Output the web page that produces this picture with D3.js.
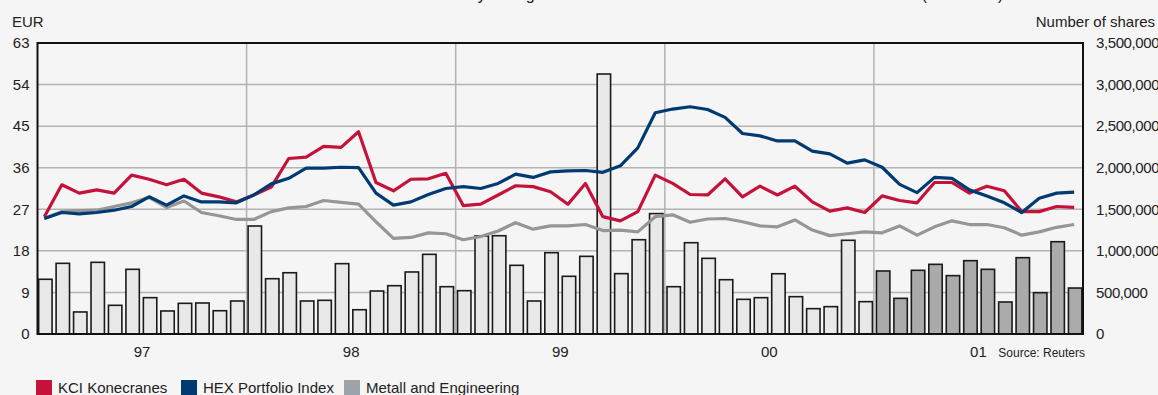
<!DOCTYPE html>
<meta charset="utf-8">
<style>
body { margin: 0; background: #f5f5f5; }
svg { display: block; font-family: "Liberation Sans", Arial, sans-serif; }
.tick text { font-size: 15px; fill: #222; }
.grid line { stroke: #b3b3b3; stroke-width: 1.5; }
.bar { stroke: #1a1a1a; stroke-width: 1.6; }
.series { fill: none; stroke-width: 3.2; stroke-linejoin: round; }
</style>
<svg width="1158" height="395"></svg>
<script src="https://d3js.org/d3.v7.min.js"></script>
<script>

// 60 months, Jan 1997 .. Dec 2001
var years = ["97", "98", "99", "00", "01"];

var kci = [25.4, 32.3, 30.5, 31.2, 30.5, 34.4, 33.5, 32.3, 33.5, 30.5, 29.7, 28.6,
           30.1, 31.8, 38.0, 38.3, 40.6, 40.4, 43.8, 32.8, 31.0, 33.5, 33.6, 34.8,
           27.8, 28.1, 30.1, 32.1, 31.9, 30.8, 28.1, 32.6, 25.4, 24.5, 26.5, 34.4,
           32.6, 30.2, 30.1, 33.6, 29.7, 32.0, 30.1, 32.0, 28.6, 26.6, 27.3, 26.3,
           29.9, 28.9, 28.4, 32.8, 32.8, 30.5, 32.0, 31.0, 26.5, 26.5, 27.6, 27.4];

var hex = [25.0, 26.3, 26.0, 26.3, 26.8, 27.6, 29.7, 27.9, 29.9, 28.6, 28.6, 28.4,
           30.1, 32.5, 33.7, 35.9, 35.9, 36.1, 36.0, 30.5, 27.9, 28.6, 30.2, 31.5,
           31.9, 31.5, 32.6, 34.6, 33.9, 35.1, 35.3, 35.4, 35.0, 36.4, 40.3, 47.9,
           48.7, 49.2, 48.6, 46.9, 43.4, 42.9, 41.8, 41.8, 39.6, 39.0, 37.0, 37.7,
           36.1, 32.4, 30.6, 33.9, 33.7, 31.2, 29.9, 28.4, 26.3, 29.4, 30.5, 30.7];

var metall = [25.0, 26.5, 26.7, 26.8, 27.6, 28.4, 29.6, 27.4, 28.8, 26.3, 25.6, 24.8,
              24.8, 26.5, 27.3, 27.6, 28.9, 28.5, 28.1, 24.3, 20.7, 20.9, 21.9, 21.7,
              20.4, 21.1, 22.3, 24.1, 22.7, 23.4, 23.4, 23.7, 22.4, 22.5, 22.1, 25.4,
              25.8, 24.2, 24.9, 25.0, 24.3, 23.4, 23.2, 24.7, 22.5, 21.3, 21.7, 22.1,
              21.9, 23.4, 21.4, 23.2, 24.5, 23.7, 23.7, 23.0, 21.4, 22.1, 23.1, 23.7];

var volume = [658000, 850000, 265000, 862000, 345000, 778000, 437000, 277000, 369000, 373000, 280000, 397000,
              1299000, 665000, 737000, 397000, 405000, 846000, 292000, 517000, 581000, 746000, 958000, 569000,
              521000, 1179000, 1182000, 826000, 397000, 978000, 694000, 934000, 3127000, 726000, 1134000, 1448000,
              569000, 1098000, 910000, 653000, 417000, 437000, 725000, 449000, 305000, 329000, 1127000, 389000,
              758000, 429000, 766000, 838000, 702000, 882000, 778000, 385000, 918000, 497000, 1110000, 553000];

var eurTicks = [0, 9, 18, 27, 36, 45, 54, 63];
var shareTicks = [0, 500000, 1000000, 1500000, 2000000, 2500000, 3000000, 3500000];

var legend = [
  {name: "KCI Konecranes", color: "#c4123a"},
  {name: "HEX Portfolio Index", color: "#003a72"},
  {name: "Metall and Engineering", color: "#9ea5aa"}
];

var svg = d3.select("svg"),
    pLeft = 37.5, pRight = 1083, pTop = 43, pBottom = 334;

var x = d3.scaleBand().domain(d3.range(volume.length)).range([pLeft, pRight])
    .paddingInner(0.14).paddingOuter(0.02);
var xYear = d3.scaleBand().domain(years).range([pLeft, pRight]);
var yL = d3.scaleLinear().domain([0, 63]).range([pBottom, pTop]);
var yR = d3.scaleLinear().domain([0, 3500000]).range([pBottom, pTop]);

// title (cut off at top of the picture)
svg.append("text")
    .attr("x", 122).attr("y", 0)
    .style("font-size", "16px").style("fill", "#222")
    .text("KCI Konecranes Share Price and Turnover Monthly during 1997–2001 Relative to HEX Indices and Sector Index (EUR/HEX)");

// grid
var grid = svg.append("g").attr("class", "grid");
grid.selectAll(".h").data(eurTicks.slice(1, -1)).enter().append("line")
    .attr("x1", pLeft).attr("x2", pRight)
    .attr("y1", function(d) { return yL(d); }).attr("y2", function(d) { return yL(d); });
grid.selectAll(".v").data(years.slice(1)).enter().append("line")
    .attr("x1", function(d) { return xYear(d); }).attr("x2", function(d) { return xYear(d); })
    .attr("y1", pTop).attr("y2", pBottom);

// bars
svg.selectAll(".bar").data(volume).enter().append("rect")
    .attr("class", "bar")
    .attr("x", function(d, i) { return x(i) + 0.8; })
    .attr("width", x.bandwidth() - 1.6)
    .attr("y", function(d) { return yR(d); })
    .attr("height", function(d) { return pBottom - yR(d); })
    .style("fill", function(d, i) { return i >= 48 ? "#a9aaa9" : "#e8e8e8"; });

// lines
var line = d3.line()
    .x(function(d, i) { return x(i) + x.bandwidth() / 2 - 1; })
    .y(function(d) { return yL(d); });

[[metall, "#969696"], [kci, "#c4123a"], [hex, "#003a72"]].forEach(function(s) {
  svg.append("path").datum(s[0])
      .attr("class", "series")
      .attr("d", line)
      .style("stroke", s[1]);
});

// frame
svg.append("rect")
    .attr("x", pLeft).attr("y", pTop)
    .attr("width", pRight - pLeft).attr("height", pBottom - pTop)
    .style("fill", "none").style("stroke", "#111").style("stroke-width", 2);

// axes
var axL = svg.append("g")
    .attr("transform", "translate(" + pLeft + ",0)")
    .call(d3.axisLeft(yL).tickValues(eurTicks).tickSize(0).tickPadding(8));
axL.select(".domain").remove();

var axR = svg.append("g")
    .attr("transform", "translate(" + pRight + ",0)")
    .call(d3.axisRight(yR).tickValues(shareTicks).tickSize(0).tickPadding(13)
      .tickFormat(d3.format(",")));
axR.select(".domain").remove();
axR.selectAll("text").style("letter-spacing", "-0.4px");

var axB = svg.append("g")
    .attr("transform", "translate(0," + pBottom + ")")
    .call(d3.axisBottom(xYear).tickSize(0).tickPadding(12));
axB.select(".domain").remove();

svg.append("text").attr("x", 12).attr("y", 27)
    .style("font-size", "15px").style("fill", "#222").text("EUR");
svg.append("text").attr("x", 1155).attr("y", 27).attr("text-anchor", "end")
    .style("font-size", "15px").style("fill", "#222").text("Number of shares");
svg.append("text").attr("x", 1085).attr("y", 357).attr("text-anchor", "end")
    .style("font-size", "12px").style("fill", "#222").text("Source: Reuters");

// legend
var lg = svg.selectAll(".legend").data(legend).enter().append("g")
    .attr("transform", function(d, i) { return "translate(" + [36, 181, 344][i] + ",380)"; });
lg.append("rect").attr("width", 16).attr("height", 16)
    .style("fill", function(d) { return d.color; });
lg.append("text").attr("x", 22).attr("y", 13)
    .style("font-size", "15px").style("fill", "#222")
    .text(function(d) { return d.name; });

</script>
